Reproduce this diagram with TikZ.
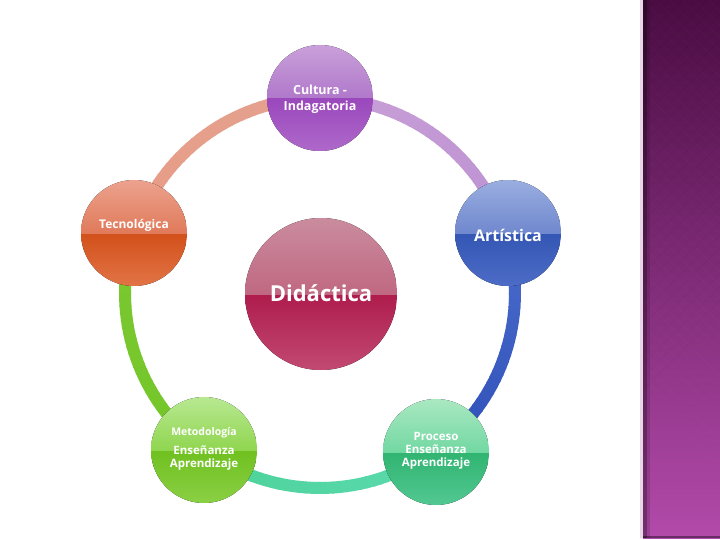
\documentclass[tikz,border=0pt]{standalone}
\usepackage{fontspec}
\setmainfont{Open Sans}
\definecolor{panTop}{HTML}{4A0C42}
\definecolor{panMid}{HTML}{7C2C74}
\definecolor{panBot}{HTML}{B24AAA}
\definecolor{panEdge}{HTML}{E8D6E6}
\definecolor{rLav}{HTML}{C8A0D8}
\definecolor{rLav2}{HTML}{BE92D2}
\definecolor{rBlue}{HTML}{4A6CCC}
\definecolor{rBlue2}{HTML}{2E50B8}
\definecolor{rMint}{HTML}{4CD29A}
\definecolor{rMint2}{HTML}{5CDAAE}
\definecolor{rGreen}{HTML}{72C62A}
\definecolor{rGreen2}{HTML}{7CC830}
\definecolor{rSal}{HTML}{E89C86}
\definecolor{rSal2}{HTML}{E4A290}
\newcommand\mybubble[8]{%
  \definecolor{bA}{HTML}{#5}\definecolor{bB}{HTML}{#6}%
  \definecolor{bC}{HTML}{#7}\definecolor{bD}{HTML}{#8}%
  \begin{scope}
    \clip (#2,#3) circle (#4);
    \fill[top color=bC, bottom color=bD] (#2-#4,#3) rectangle (#2+#4,#3+#4);
    \fill[top color=bA, bottom color=bB] (#2-#4,#3-#4) rectangle (#2+#4,#3);
  \end{scope}
  \node[circle, minimum size=2*#4, inner sep=0pt] (#1) at (#2,#3) {};
}
\newcommand\ringarc[3]{% start angle, c1, c2 ; 36 steps of -2 deg
  \foreach \i in {0,...,35}{%
    \pgfmathsetmacro\aa{#1-2*\i}
    \pgfmathsetmacro\bb{\aa-2.4}
    \pgfmathtruncatemacro\pp{100-\i*100/35}
    \draw[line width=12pt, #2!\pp!#3]
      ({320+195*cos(\aa)},{293-195*sin(\aa)}) -- ({320+195*cos(\bb)},{293-195*sin(\bb)});
  }
}
\tikzset{bubtext/.style={text=white, font=\bfseries, align=center, inner sep=0pt}}
\begin{document}
\begin{tikzpicture}[x=1pt,y=-1pt]
\useasboundingbox (0,0) rectangle (720,540);
\fill[white] (0,0) rectangle (720,540);
% right panel
\fill[panEdge] (640,0) rectangle (643,538);
\shade[top color=panTop, middle color=panMid, bottom color=panBot] (643,0) rectangle (720,538);
\begin{scope}
  \clip (643,0) rectangle (720,538);
  \foreach \k in {-30,...,30}{
    \draw[white, opacity=0.02, line width=0.8pt] (643+\k*13,0) -- ++(540,540);
    \draw[black, opacity=0.02, line width=0.8pt] (643+\k*13,0) -- ++(-540,540);
  }
\end{scope}
\fill[black, opacity=0.35] (643,0) rectangle (647,538);
\fill[black, opacity=0.12] (647,0) rectangle (650,538);
\fill[black, opacity=0.4] (643,536) rectangle (720,538);
% ring
\ringarc{90}{rLav}{rLav2}
\ringarc{18}{rBlue}{rBlue2}
\ringarc{-54}{rMint2}{rMint}
\ringarc{-126}{rGreen}{rGreen2}
\ringarc{-198}{rSal}{rSal2}
% bubbles
\mybubble{cult}{320}{98}{53}{C9A0DA}{B078CA}{9A48BC}{AE68CA}
\node[bubtext, font=\bfseries\fontsize{12.5}{16}\selectfont] at (320,99) {Cultura -\\Indagatoria};
\mybubble{tec}{134}{233}{53}{ECA28E}{E07A5A}{D2501A}{E27446}
\node[bubtext, font=\bfseries\fontsize{12}{15}\selectfont] at (134,225) {Tecnológica};
\mybubble{art}{508}{233}{53}{9AAEE0}{7088CE}{3456B4}{4C6CC6}
\node[bubtext, font=\bfseries\fontsize{16}{20}\selectfont] at (508,235) {Artística};
\mybubble{did}{321}{294}{76}{CA8C9E}{C06882}{AE1C4C}{C24A72}
\node[bubtext, font=\bfseries\fontsize{22}{26}\selectfont] at (321,293) {Didáctica};
\mybubble{met}{204}{450}{53}{B8E892}{90D650}{70C020}{8AD044}
\node[bubtext, font=\bfseries\fontsize{10.5}{13}\selectfont] at (204,433) {Metodología};
\node[bubtext, font=\bfseries\fontsize{11.5}{13.5}\selectfont] at (204,458) {Enseñanza\\Aprendizaje};
\mybubble{pro}{436}{452}{53}{AAE8C2}{72D8A2}{30B470}{52C892}
\node[bubtext, font=\bfseries\fontsize{11.5}{13}\selectfont] at (436,451) {Proceso\\Enseñanza\\Aprendizaje};
\end{tikzpicture}
\end{document}
